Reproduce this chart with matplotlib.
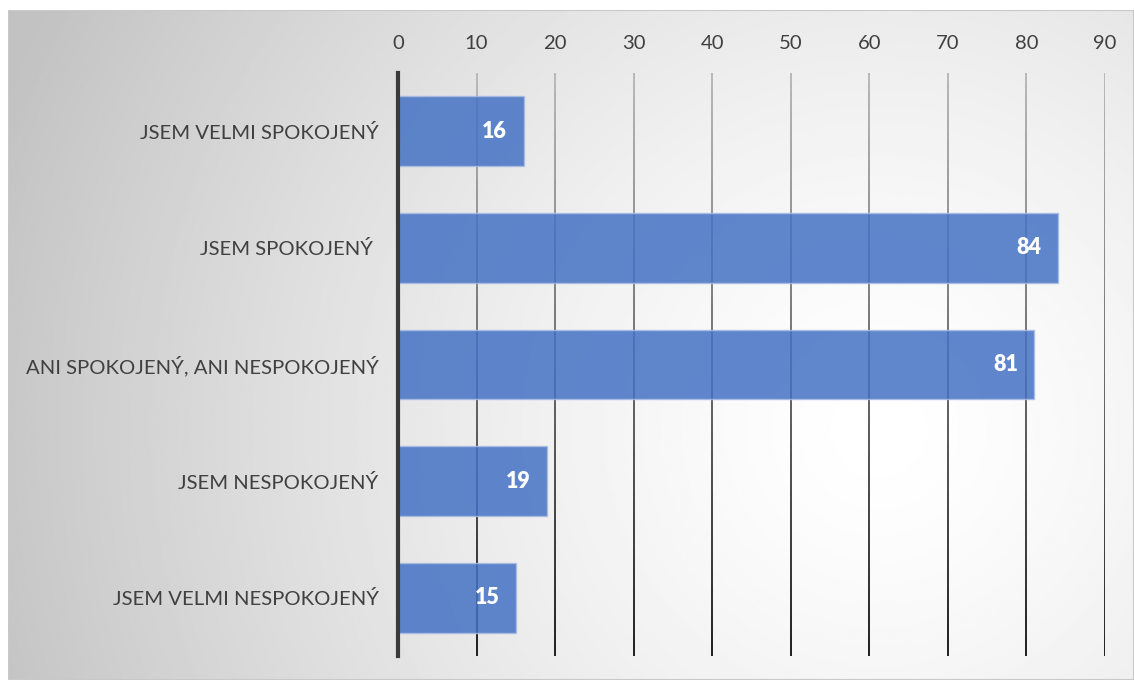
import numpy as np
import matplotlib.pyplot as plt
from matplotlib.collections import LineCollection

categories = ['JSEM VELMI SPOKOJENÝ', 'JSEM SPOKOJENÝ ', 'ANI SPOKOJENÝ, ANI NESPOKOJENÝ',
              'JSEM NESPOKOJENÝ', 'JSEM VELMI NESPOKOJENÝ']
values = [16, 84, 81, 19, 15]
ticks = [0, 10, 20, 30, 40, 50, 60, 70, 80, 90]

plt.rcParams['font.family'] = ['Lato', 'DejaVu Sans']

W, H = 1134, 680
fig = plt.figure(figsize=(W / 100, H / 100), dpi=100)

# radial grey-to-white backdrop inside a thin frame
bg = fig.add_axes([8 / W, 0, 1 - 8 / W, 1 - 10 / H])
bg.set_axis_off()
gx, gy = np.meshgrid(np.linspace(8, W, 400), np.linspace(10, H, 240))
r = np.hypot(gx - 880, gy - 430) / 940
shade = 1 - 0.24 * np.clip(r, 0, 1) ** 1.4
bg.imshow(shade, cmap='gray', vmin=0, vmax=1, aspect='auto', extent=[0, 1, 0, 1], origin='upper')
bg.add_patch(plt.Rectangle((0, 0), 1, 1, transform=bg.transAxes, fill=False,
                           edgecolor='#c8c8c8', linewidth=1.5))

ax = fig.add_axes([398 / W, 1 - 656 / H, (1105 - 398) / W, (656 - 73) / H])
ax.patch.set_alpha(0)

y = np.arange(len(categories))
ax.set_ylim(len(categories) - 0.5, -0.5)
ax.set_xlim(0, 90)

# vertical gridlines fading from light grey at the top to near black at the bottom
n = 60
ys = np.linspace(-0.5, len(categories) - 0.5, n + 1)
for t in ticks[1:]:
    segs = [[(t, ys[i]), (t, ys[i + 1])] for i in range(n)]
    lv = np.linspace(0.72, 0.12, n)
    cols = [(c, c, c) for c in lv]
    ax.add_collection(LineCollection(segs, colors=cols, linewidths=1.4, zorder=1))

ax.barh(y, values, height=0.6, color='#4472c4', alpha=0.85, edgecolor='#a9bde3',
        linewidth=1, zorder=2)
for yi, v in zip(y, values):
    ax.text(v - 2.1, yi, str(v), ha='right', va='center', color='white',
            fontsize=15.5, fontweight='heavy', zorder=3)

ax.axvline(0, color='#3a3a3a', linewidth=3, zorder=4, clip_on=False)

ax.xaxis.tick_top()
ax.set_xticks(ticks)
ax.set_yticks(y)
ax.set_yticklabels(categories)
ax.tick_params(axis='x', length=0, pad=15, labelsize=14.6, labelcolor='#404040')
ax.tick_params(axis='y', length=0, pad=14, labelsize=14.6, labelcolor='#404040')
for s in ax.spines.values():
    s.set_visible(False)

fig.savefig('out.png', dpi=100)
